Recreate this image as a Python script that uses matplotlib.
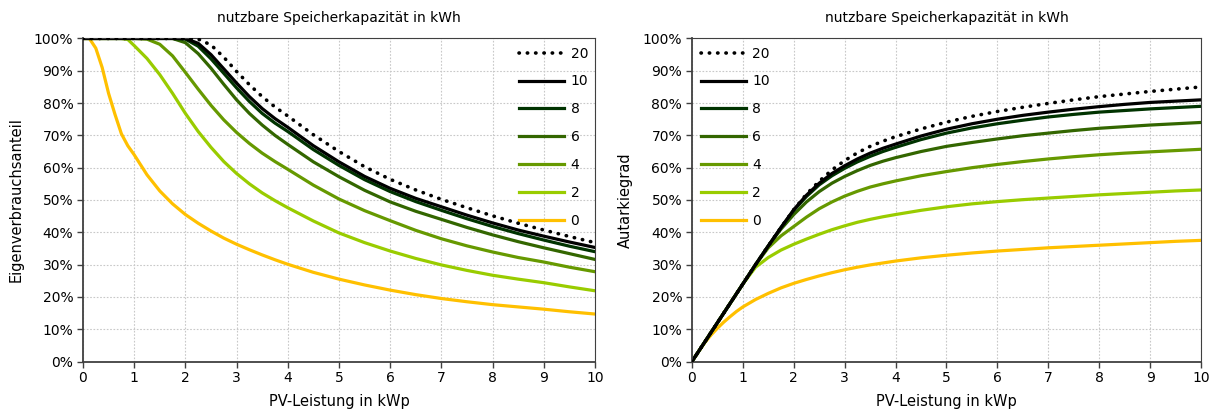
import numpy as np
import matplotlib
matplotlib.use("Agg")
import matplotlib.pyplot as plt
from matplotlib.ticker import PercentFormatter

plt.rcParams['font.family'] = ['DejaVu Sans']

# ------------------------------------
#          - Data -
# ------------------------------------

pv_kwp = [0, 0.125, 0.25, 0.375, 0.5, 0.625, 0.75, 0.875, 1,
          1.25, 1.5, 1.75, 2, 2.25, 2.5, 2.75, 3, 3.25, 3.5, 3.75, 4,
          4.5, 5, 5.5, 6, 6.5, 7, 7.5, 8, 8.5, 9, 9.5, 10]

storage_kwh = ['20', '10', '8', '6', '4', '2', '0']

# Eigenverbrauchsanteil in %
ev_20 = [100] * 13 + [99.8, 98, 94.2, 89.8, 85.7, 82, 78.8, 76, 70.2, 65, 60.3,
                      56.4, 53.1, 50.2, 47.6, 45.1, 42.8, 40.7, 38.7, 36.8]
ev_10 = [100] * 13 + [98.5, 95, 90.6, 86.2, 82, 78.3, 75.2, 72.5, 66.8, 61.8,
                      57.3, 53.6, 50.5, 47.9, 45.3, 42.9, 40.7, 38.8, 37, 35.3]
ev_8 = [100] * 12 + [99.8, 97.6, 93.7, 89.2, 84.7, 80.5, 76.8, 73.8, 71.2, 65.6,
                     60.7, 56.3, 52.6, 49.5, 46.8, 44.2, 41.8, 39.6, 37.6, 35.7, 34]
ev_6 = [100] * 12 + [98.7, 95.3, 90.8, 85.8, 81, 76.8, 73.2, 70, 67.2, 61.8,
                     57.2, 53, 49.4, 46.5, 44, 41.5, 39.2, 37.1, 35.2, 33.4, 31.6]
ev_4 = [100] * 9 + [99.8, 98.2, 94.6, 89.5, 84.3, 79.3, 74.8, 70.9, 67.5, 64.5,
                    61.9, 59.5, 54.6, 50.3, 46.7, 43.6, 40.6, 38, 35.8, 33.9,
                    32.2, 30.8, 29.2, 27.8]
ev_2 = [100] * 7 + [99.7, 97.8, 93.8, 88.8, 83, 76.8, 71.2, 66.3, 61.9, 58.2,
                    55, 52.2, 49.8, 47.6, 43.5, 39.8, 36.8, 34.2, 31.9, 29.9,
                    28.2, 26.7, 25.5, 24.4, 23.1, 21.9]
ev_0 = [100, 100, 97, 91, 83, 76.5, 70.5, 66.8, 64, 57.8, 52.8, 48.8, 45.5,
        42.8, 40.4, 38.2, 36.3, 34.6, 33, 31.5, 30.1, 27.6, 25.5, 23.7, 22.1,
        20.7, 19.5, 18.5, 17.6, 16.9, 16.2, 15.4, 14.7]

# Autarkiegrad in %
aut_start = [0, 3, 6, 9, 12, 15, 18, 21, 24, 30, 35.8, 41.5]
aut_20 = aut_start + [47, 51.8, 55.8, 59.3, 62.2, 64.6, 66.6, 68.2, 69.6, 72,
                      74.1, 75.9, 77.4, 78.7, 79.9, 81, 82, 82.8, 83.6, 84.3, 85]
aut_10 = aut_start + [47, 51.5, 55.2, 58.2, 60.6, 62.7, 64.5, 66, 67.3, 69.8,
                      71.9, 73.6, 75, 76.2, 77.2, 78.1, 78.9, 79.6, 80.2, 80.6, 81]
aut_8 = aut_start + [46.8, 51.1, 54.7, 57.5, 59.8, 61.8, 63.5, 65, 66.3, 68.7,
                     70.7, 72.3, 73.6, 74.7, 75.7, 76.5, 77.2, 77.7, 78.2, 78.6, 79]
aut_6 = aut_start[:11] + [41, 45.5, 49.4, 52.6, 55.2, 57.3, 59.1, 60.7, 62, 63.1,
                          65, 66.6, 67.8, 68.9, 69.9, 70.7, 71.5, 72.2, 72.7,
                          73.2, 73.6, 74]
aut_4 = aut_start[:10] + [35.2, 38.9, 41.8, 44.7, 47.3, 49.4, 51.2, 52.7, 54, 55,
                          55.9, 57.5, 58.8, 60, 61, 61.9, 62.7, 63.4, 64, 64.5,
                          64.9, 65.3, 65.7]
aut_2 = aut_start[:9] + [29.2, 32.2, 34.5, 36.3, 37.9, 39.4, 40.8, 42, 43.1, 44,
                         44.8, 45.5, 46.8, 47.9, 48.8, 49.5, 50.1, 50.6, 51.1,
                         51.6, 52, 52.4, 52.8, 53.1]
aut_0 = [0, 3, 5.8, 8.2, 10.3, 12.2, 13.9, 15.5, 16.9, 19.2, 21.1, 22.8, 24.2,
         25.4, 26.5, 27.5, 28.4, 29.2, 29.9, 30.5, 31.1, 32.1, 32.9, 33.6, 34.2,
         34.7, 35.2, 35.6, 36, 36.4, 36.8, 37.2, 37.5]

colors = ['black', 'black', '#003300', '#336600', '#669900', '#99cc00', '#ffc000']

ev_series = [ev_20, ev_10, ev_8, ev_6, ev_4, ev_2, ev_0]
aut_series = [aut_20, aut_10, aut_8, aut_6, aut_4, aut_2, aut_0]

# ------------------------------------
#          - Plot -
# ------------------------------------

fig = plt.figure(figsize=(12.15, 4.11), dpi=100)
ax1 = fig.add_axes([0.0683, 0.1204, 0.4214, 0.786])
ax2 = fig.add_axes([0.5695, 0.1204, 0.419, 0.786])


def draw(ax, series, ylabel, leg_x):
    # smallest storage first, so the big ones lie on top
    for label, vals, col in reversed(list(zip(storage_kwh, series, colors))):
        if label == '20':
            ax.plot(pv_kwp, vals, color=col, lw=2.6, linestyle=(0, (0.1, 2.2)),
                    dash_capstyle='round', label=label, zorder=10)
        else:
            ax.plot(pv_kwp, vals, color=col, lw=2.3, label=label,
                    solid_joinstyle='round')
    ax.set_xlim(0, 10)
    ax.set_ylim(0, 100)
    ax.set_xticks(np.arange(0, 11, 1))
    ax.set_yticks(np.arange(0, 101, 10))
    ax.yaxis.set_major_formatter(PercentFormatter(decimals=0))
    ax.grid(True, color='#c8c8c8', linestyle=(0, (1.5, 1.5)), lw=0.8)
    ax.set_axisbelow(True)
    ax.tick_params(direction='out', length=4, width=1, color='#404040',
                   labelsize=10, pad=3)
    for s in ['left', 'bottom']:
        ax.spines[s].set_color('#404040')
        ax.spines[s].set_linewidth(1.3)
    for s in ['right', 'top']:
        ax.spines[s].set_color('#404040')
        ax.spines[s].set_linewidth(0.8)
    ax.set_xlabel('PV-Leistung in kWp', fontsize=10.5, labelpad=6)
    ax.set_ylabel(ylabel, fontsize=10.5, labelpad=7)
    ax.set_title('nutzbare Speicherkapazität in kWh', fontsize=10, pad=12)
    handles, labels = ax.get_legend_handles_labels()
    ax.legend(handles[::-1], labels[::-1], loc='upper left',
              bbox_to_anchor=(leg_x, 0.975), frameon=False, fontsize=10,
              handlelength=3.2, labelspacing=1.0, handletextpad=0.5,
              borderpad=0, borderaxespad=0)


draw(ax1, ev_series, 'Eigenverbrauchsanteil', 0.852)
draw(ax2, aut_series, 'Autarkiegrad', 0.018)

plt.savefig('out.png', dpi=100)
